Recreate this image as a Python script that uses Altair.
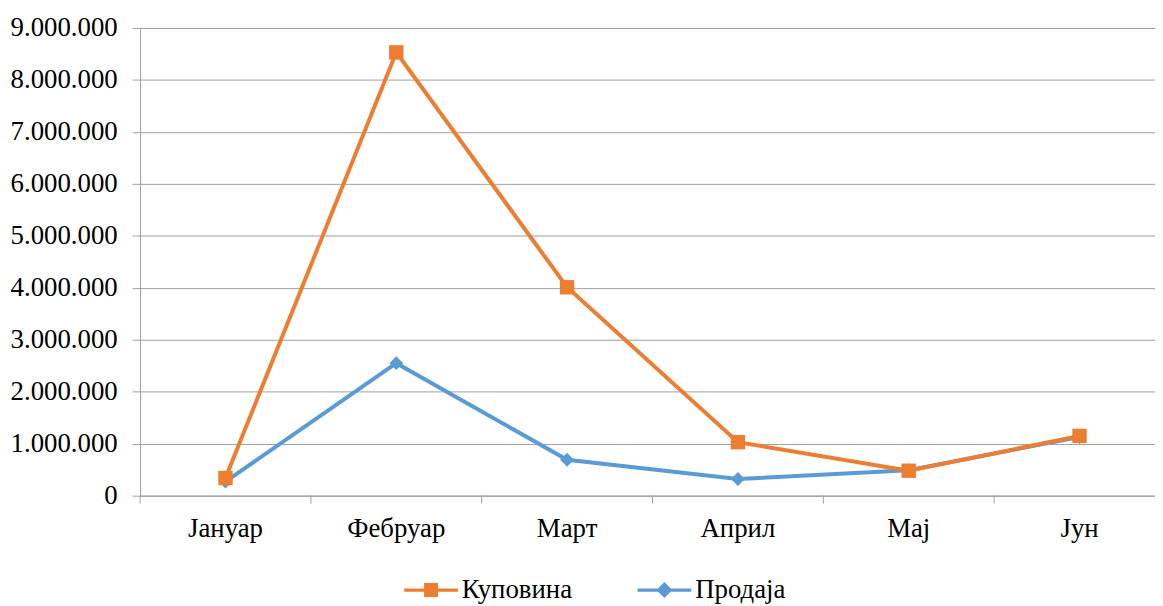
import altair as alt
import pandas as pd

months = ["Јануар", "Фебруар", "Март", "Април", "Мај", "Јун"]
kupovina = [340000, 8530000, 4010000, 1030000, 480000, 1150000]
prodaja = [270000, 2550000, 690000, 320000, 490000, 1130000]
series_names = ["Куповина", "Продаја"]
y_ticks = [0, 1000000, 2000000, 3000000, 4000000, 5000000, 6000000, 7000000, 8000000, 9000000]

rows = []
for m, k, p in zip(months, kupovina, prodaja):
    rows.append({"month": m, "series": series_names[0], "value": k})
    rows.append({"month": m, "series": series_names[1], "value": p})
df = pd.DataFrame(rows)

W, H = 1022, 471
FONT = "'Liberation Serif', 'Times New Roman', Times, 'DejaVu Serif', serif"
FS = 27
ORANGE = "#ED7D31"
BLUE = "#5B9BD5"
GRID = "#a0a0a0"

# the category axis continues slightly past the visible right edge, as in the reference
xscale = alt.Scale(type="band", domain=months, paddingInner=0, paddingOuter=0, range=[0, 1032])
yscale = alt.Scale(domain=[0, 9000000], nice=False, zero=True)

x_axis = alt.Axis(title=None, ticks=False, tickSize=0, labelPadding=20,
                  labelFont=FONT, labelFontSize=FS, labelColor="#000000",
                  labelAngle=0, domainColor=GRID, domainWidth=1, grid=False)
x_enc = alt.X("month:N", scale=xscale, sort=months, axis=x_axis)
y_enc = alt.Y("value:Q", scale=yscale,
              axis=alt.Axis(title=None, values=y_ticks, grid=True, gridColor=GRID, gridWidth=1,
                            tickSize=8, tickColor=GRID, labelPadding=15,
                            labelFont=FONT, labelFontSize=FS, labelColor="#000000",
                            domainColor=GRID,
                            labelExpr="replace(format(datum.value, ','), regexp(',', 'g'), '.')"))

base = alt.Chart(df)

ticks_layer = base.transform_filter(alt.datum.series == series_names[0]).mark_rule(
    color=GRID, strokeWidth=1).encode(
    x=alt.X("month:N", scale=xscale, sort=months, bandPosition=0, axis=x_axis),
    y=alt.value(H), y2=alt.value(H + 8))

def series_layers(name, color, shape, size):
    sub = base.transform_filter(alt.datum.series == name)
    line = sub.mark_line(color=color, strokeWidth=4).encode(x=x_enc, y=y_enc)
    pts = sub.mark_point(filled=True, color=color, shape=shape, size=size, opacity=1).encode(x=x_enc, y=y_enc)
    return [line, pts]

sq_path = "M-1,-0.06H1V0.06H-1Z M-0.26,-0.26H0.26V0.26H-0.26Z"
di_path = "M-1,-0.06H1V0.06H-1Z M0,-0.3L0.3,0L0,0.3L-0.3,0Z"

leg = dict(title=None, orient="none", direction="horizontal",
           legendX=266, legendY=539, symbolSize=2916,
           symbolOpacity=1, symbolStrokeWidth=0,
           labelFont=FONT, labelFontSize=FS, labelColor="#000000",
           labelOffset=4, columnPadding=65, padding=0)

legend_layer = base.mark_point(filled=True, opacity=0).encode(
    x=x_enc, y=y_enc,
    color=alt.Color("series:N", scale=alt.Scale(domain=series_names, range=[ORANGE, BLUE]),
                    legend=alt.Legend(**leg)),
    shape=alt.Shape("series:N", scale=alt.Scale(domain=series_names, range=[sq_path, di_path]),
                    legend=alt.Legend(**leg)),
)

layers = [ticks_layer] + series_layers(series_names[1], BLUE, "diamond", 196) + \
    series_layers(series_names[0], ORANGE, "square", 210) + [legend_layer]

chart = alt.layer(*layers).properties(
    width=W, height=H,
    autosize=alt.AutoSizeParams(type="none"),
    padding={"left": 133, "top": 18, "right": 0, "bottom": 108},
).configure_view(stroke=None).configure(background="white", font=FONT)

chart.save("out.html", embed_options={"renderer": "svg", "actions": False})
